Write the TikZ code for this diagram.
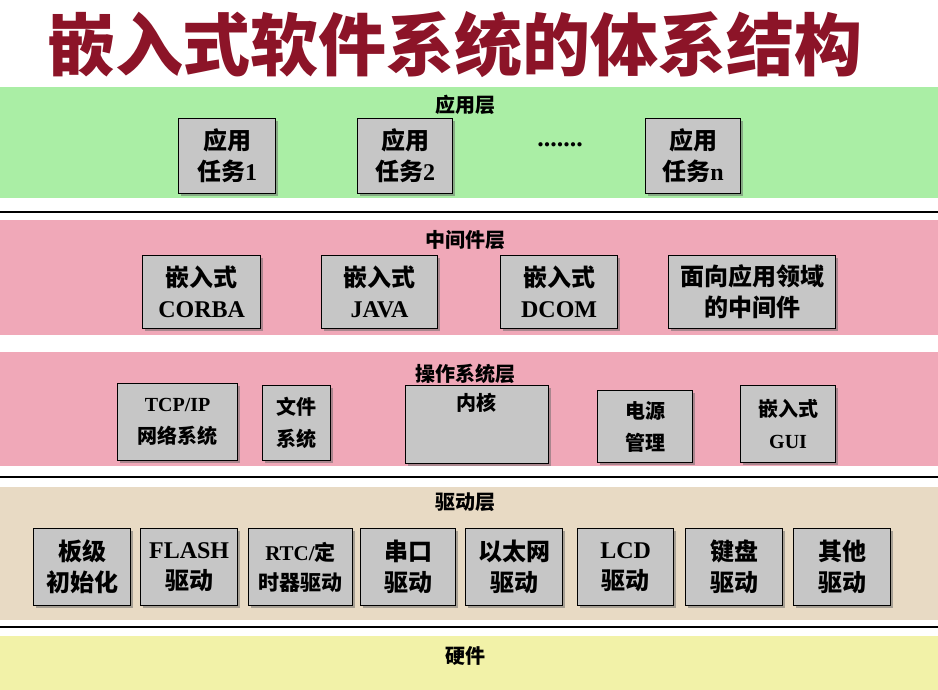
\documentclass[tikz,border=0pt]{standalone}
\usepackage{fontspec}
\usetikzlibrary{shadows}
\setmainfont{Liberation Serif}
\newfontfamily\cjk{Noto Sans CJK SC}
\definecolor{gband}{RGB}{170,238,165}
\definecolor{pband}{RGB}{240,168,184}
\definecolor{tband}{RGB}{232,218,196}
\definecolor{yband}{RGB}{242,242,168}
\definecolor{ttl}{RGB}{140,20,40}
\begin{document}
\begin{tikzpicture}[x=1pt,y=-1pt,
  bx/.style={draw=black,line width=1.2pt,fill=gray!45,inner sep=0pt,anchor=north west,
    align=center,font=\cjk\fontsize{24}{31}\selectfont\bfseries,
    drop shadow={shadow xshift=2pt,shadow yshift=-2pt,fill=black!60}},
  os/.style={font=\cjk\fontsize{20}{32}\selectfont\bfseries},
  lab/.style={font=\cjk\fontsize{20}{22}\selectfont\bfseries}]
\useasboundingbox (0,0) rectangle (938,690);
\fill[white] (0,0) rectangle (938,690);
\node[font=\cjk\fontsize{68}{72}\selectfont\bfseries,text=ttl] (title) at (455,45) {嵌入式软件系统的体系结构};
% bands
\fill[gband] (0,87) rectangle (938,198);
\draw[line width=2pt] (0,212) -- (938,212);
\fill[pband] (0,220) rectangle (938,335);
\fill[pband] (0,352) rectangle (938,466);
\draw[line width=2pt] (0,477) -- (938,477);
\fill[tband] (0,487) rectangle (938,620);
\draw[line width=2pt] (0,627) -- (938,627);
\fill[yband] (0,636) rectangle (938,690);
% labels
\node[lab] (l1) at (465,105) {应用层};
\node[lab] (l2) at (465,240) {中间件层};
\node[lab] (l3) at (465,374) {操作系统层};
\node[lab] (l4) at (465,502) {驱动层};
\node[lab] (l5) at (465,656) {硬件};
% app
\node[bx,minimum width=97pt,minimum height=75pt] (a1) at (178,118) {应用\\任务\textrm{1}};
\node[bx,minimum width=95pt,minimum height=75pt] (a2) at (357,118) {应用\\任务\textrm{2}};
\node[font=\bfseries\fontsize{26}{26}\selectfont] (dots) at (560,145) {.......};
\node[bx,minimum width=95pt,minimum height=75pt] (a3) at (645,118) {应用\\任务\textrm{n}};
% middleware
\node[bx,minimum width=118pt,minimum height=73pt] (m1) at (142,255) {嵌入式\\\textrm{CORBA}};
\node[bx,minimum width=116pt,minimum height=73pt] (m2) at (321,255) {嵌入式\\\textrm{JAVA}};
\node[bx,minimum width=117pt,minimum height=73pt] (m3) at (500,255) {嵌入式\\\textrm{DCOM}};
\node[bx,minimum width=167pt,minimum height=73pt] (m4) at (668,255) {面向应用领域\\的中间件};
% OS
\node[bx,os,minimum width=120pt,minimum height=77pt] (o1) at (117,383) {\textrm{TCP/IP}\\网络系统};
\node[bx,os,minimum width=68pt,minimum height=75pt] (o2) at (262,385) {文件\\系统};
\node[bx,minimum width=143pt,minimum height=78pt] (o3) at (405,385) {};
\node[os] (o3t) at (476,403) {内核};
\node[bx,os,minimum width=95pt,minimum height=72pt] (o4) at (597,390) {电源\\管理};
\node[bx,os,minimum width=95pt,minimum height=77pt] (o5) at (740,385) {嵌入式\\\textrm{GUI}};
% drivers
\node[bx,minimum width=97pt,minimum height=77pt] (d1) at (33,528) {板级\\初始化};
\node[bx,minimum width=97pt,minimum height=77pt] (d2) at (140,528) {\textrm{FLASH}\\驱动};
\node[bx,minimum width=104pt,minimum height=77pt,font=\cjk\fontsize{21}{30}\selectfont\bfseries] (d3) at (248,528) {\textrm{RTC/}定\\时器驱动};
\node[bx,minimum width=95pt,minimum height=77pt] (d4) at (360,528) {串口\\驱动};
\node[bx,minimum width=97pt,minimum height=77pt] (d5) at (465,528) {以太网\\驱动};
\node[bx,minimum width=96pt,minimum height=77pt] (d6) at (577,528) {\textrm{LCD}\\驱动};
\node[bx,minimum width=97pt,minimum height=77pt] (d7) at (685,528) {键盘\\驱动};
\node[bx,minimum width=97pt,minimum height=77pt] (d8) at (793,528) {其他\\驱动};
\end{tikzpicture}
\end{document}
